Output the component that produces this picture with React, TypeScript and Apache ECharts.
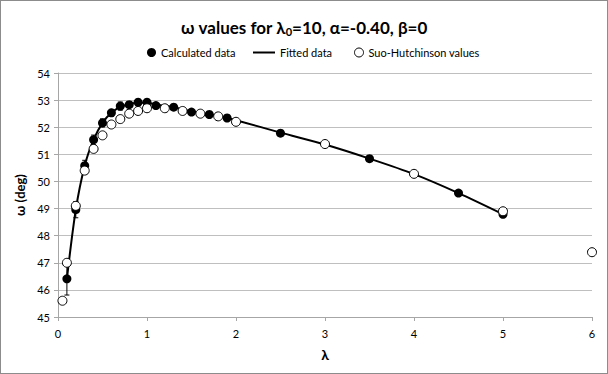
import React, { useEffect, useRef } from "react";
import * as echarts from "echarts";

const calcLambda = [0.1, 0.2, 0.3, 0.4, 0.5, 0.6, 0.7, 0.8, 0.9, 1.0, 1.1, 1.3, 1.5, 1.7, 1.9, 2.5, 3.5, 4.5, 5.0];
const calcOmega = [46.41, 48.96, 50.58, 51.54, 52.16, 52.53, 52.78, 52.83, 52.92, 52.92, 52.8, 52.74, 52.56, 52.47, 52.34, 51.78, 50.84, 49.57, 48.79];
const calcError = [0.6, 0.3, 0.2, 0.17, 0.15, 0.13, 0.15, 0.1, 0.12, 0.12, 0.05, 0.05, 0.05, 0.05, 0.05, 0.04, 0.04, 0.04, 0.04];

const fitLambda = [0.1, 0.2, 0.3, 0.4, 0.5, 0.6, 0.7, 0.8, 0.9, 1.0, 1.1, 1.3, 1.5, 1.7, 1.9, 2.0, 2.5, 3.0, 3.5, 4.0, 4.5, 5.0];
const fitOmega = [46.41, 48.96, 50.58, 51.54, 52.16, 52.53, 52.75, 52.85, 52.9, 52.9, 52.84, 52.74, 52.58, 52.47, 52.34, 52.26, 51.8, 51.36, 50.84, 50.27, 49.57, 48.79];

const suoLambda = [0.05, 0.1, 0.2, 0.3, 0.4, 0.5, 0.6, 0.7, 0.8, 0.9, 1.0, 1.2, 1.4, 1.6, 1.8, 2.0, 3.0, 4.0, 5.0, 6.0];
const suoOmega = [45.6, 47.0, 49.1, 50.4, 51.2, 51.7, 52.1, 52.3, 52.5, 52.6, 52.7, 52.7, 52.6, 52.5, 52.4, 52.2, 51.38, 50.28, 48.9, 47.39];

const xTicks = [0, 1, 2, 3, 4, 5, 6];
const yTicks = [45, 46, 47, 48, 49, 50, 51, 52, 53, 54];

const FONT = "Lato, 'Open Sans', sans-serif";

export default function App() {
  const ref = useRef<HTMLDivElement>(null);
  useEffect(() => {
    document.body.style.margin = "0";
    const chart = echarts.init(ref.current!, null, { renderer: "svg" });
    const calcData = calcLambda.map((x, i) => [x, calcOmega[i]]);
    const errData = calcLambda.map((x, i) => [x, calcOmega[i], calcError[i]]);
    const fitData = fitLambda.map((x, i) => [x, fitOmega[i]]);
    const suoData = suoLambda.map((x, i) => [x, suoOmega[i]]);
    const legendText = { fontFamily: FONT, fontSize: 11, color: "#000" };
    chart.setOption({
      animation: false,
      backgroundColor: "#fff",
      textStyle: { fontFamily: FONT },
      title: {
        text: "ω values for λ{sub|0}=10, α=-0.40, β=0",
        left: "center",
        top: 11,
        textStyle: {
          fontFamily: FONT,
          fontSize: 17,
          fontWeight: "bold",
          color: "#000",
          rich: {
            sub: { fontFamily: FONT, fontSize: 11, fontWeight: "bold", color: "#000", verticalAlign: "bottom", padding: [9, 0, 0, 0] },
          },
        },
      },
      legend: [
        {
          left: 141,
          top: 41,
          itemWidth: 9,
          itemHeight: 9,
          textStyle: legendText,
          data: [{ name: "Calculated data", icon: "circle", itemStyle: { color: "#000", opacity: 1 } }],
        },
        {
          left: 247,
          top: 41,
          itemWidth: 22,
          itemHeight: 2,
          textStyle: legendText,
          data: [{ name: "Fitted data", icon: "rect", itemStyle: { color: "#000" } }],
        },
        {
          left: 348,
          top: 41,
          itemWidth: 9,
          itemHeight: 9,
          textStyle: legendText,
          data: [{ name: "Suo-Hutchinson values", icon: "circle", itemStyle: { color: "#fff", borderColor: "#000", borderWidth: 1, opacity: 1 } }],
        },
      ],
      grid: { left: 57, right: 15, top: 72, bottom: 56 },
      xAxis: {
        type: "value",
        min: 0,
        max: 6,
        interval: 1,
        name: "λ",
        nameLocation: "middle",
        nameGap: 30,
        nameTextStyle: { fontFamily: FONT, fontSize: 14, fontWeight: "bold", color: "#000" },
        axisLine: { show: true, lineStyle: { color: "#a6a6a6" } },
        axisTick: { show: true, length: 4, lineStyle: { color: "#a6a6a6" } },
        axisLabel: { color: "#000", fontSize: 11, fontFamily: FONT, margin: 11, formatter: (v: number) => (xTicks.includes(v) ? String(v) : "") },
        splitLine: { show: false },
      },
      yAxis: {
        type: "value",
        min: 45,
        max: 54,
        interval: 1,
        name: "ω (deg)",
        nameLocation: "middle",
        nameGap: 32,
        nameTextStyle: { fontFamily: FONT, fontSize: 13, fontWeight: "bold", color: "#000" },
        axisLine: { show: true, lineStyle: { color: "#a6a6a6" } },
        axisTick: { show: true, length: 4, lineStyle: { color: "#a6a6a6" } },
        axisLabel: { color: "#000", fontSize: 11, fontFamily: FONT, margin: 8, formatter: (v: number) => (yTicks.includes(v) ? String(v) : "") },
        splitLine: { show: true, lineStyle: { color: "#bfbfbf", width: 1 } },
      },
      series: [
        {
          name: "Calculated data",
          type: "scatter",
          data: calcData,
          symbol: "circle",
          symbolSize: 9,
          itemStyle: { color: "#000", opacity: 1 },
          z: 2,
        },
        {
          name: "errbars",
          type: "custom",
          data: errData,
          z: 3,
          renderItem: (params: any, api: any) => {
            const x = api.value(0);
            const y = api.value(1);
            const e = api.value(2);
            const top = api.coord([x, y + e]);
            const bot = api.coord([x, y - e]);
            const s = { stroke: "#000", lineWidth: 1 };
            return {
              type: "group",
              children: [
                { type: "line", shape: { x1: top[0], y1: top[1], x2: bot[0], y2: bot[1] }, style: s },
                { type: "line", shape: { x1: top[0] - 2.5, y1: top[1], x2: top[0] + 2.5, y2: top[1] }, style: s },
                { type: "line", shape: { x1: bot[0] - 2.5, y1: bot[1], x2: bot[0] + 2.5, y2: bot[1] }, style: s },
              ],
            };
          },
        },
        {
          name: "Fitted data",
          type: "line",
          data: fitData,
          showSymbol: false,
          symbol: "none",
          smooth: 0.3,
          lineStyle: { color: "#000", width: 2 },
          itemStyle: { color: "#000" },
          z: 4,
        },
        {
          name: "Suo-Hutchinson values",
          type: "scatter",
          data: suoData,
          symbol: "circle",
          symbolSize: 9,
          itemStyle: { color: "#fff", borderColor: "#000", borderWidth: 1, opacity: 1 },
          z: 5,
        },
      ],
    });
    return () => chart.dispose();
  }, []);
  return (
    <div
      ref={ref}
      style={{ position: "fixed", left: 0, top: 0, width: 608, height: 374, boxSizing: "border-box", border: "1px solid #8c8c8c" }}
    />
  );
}
